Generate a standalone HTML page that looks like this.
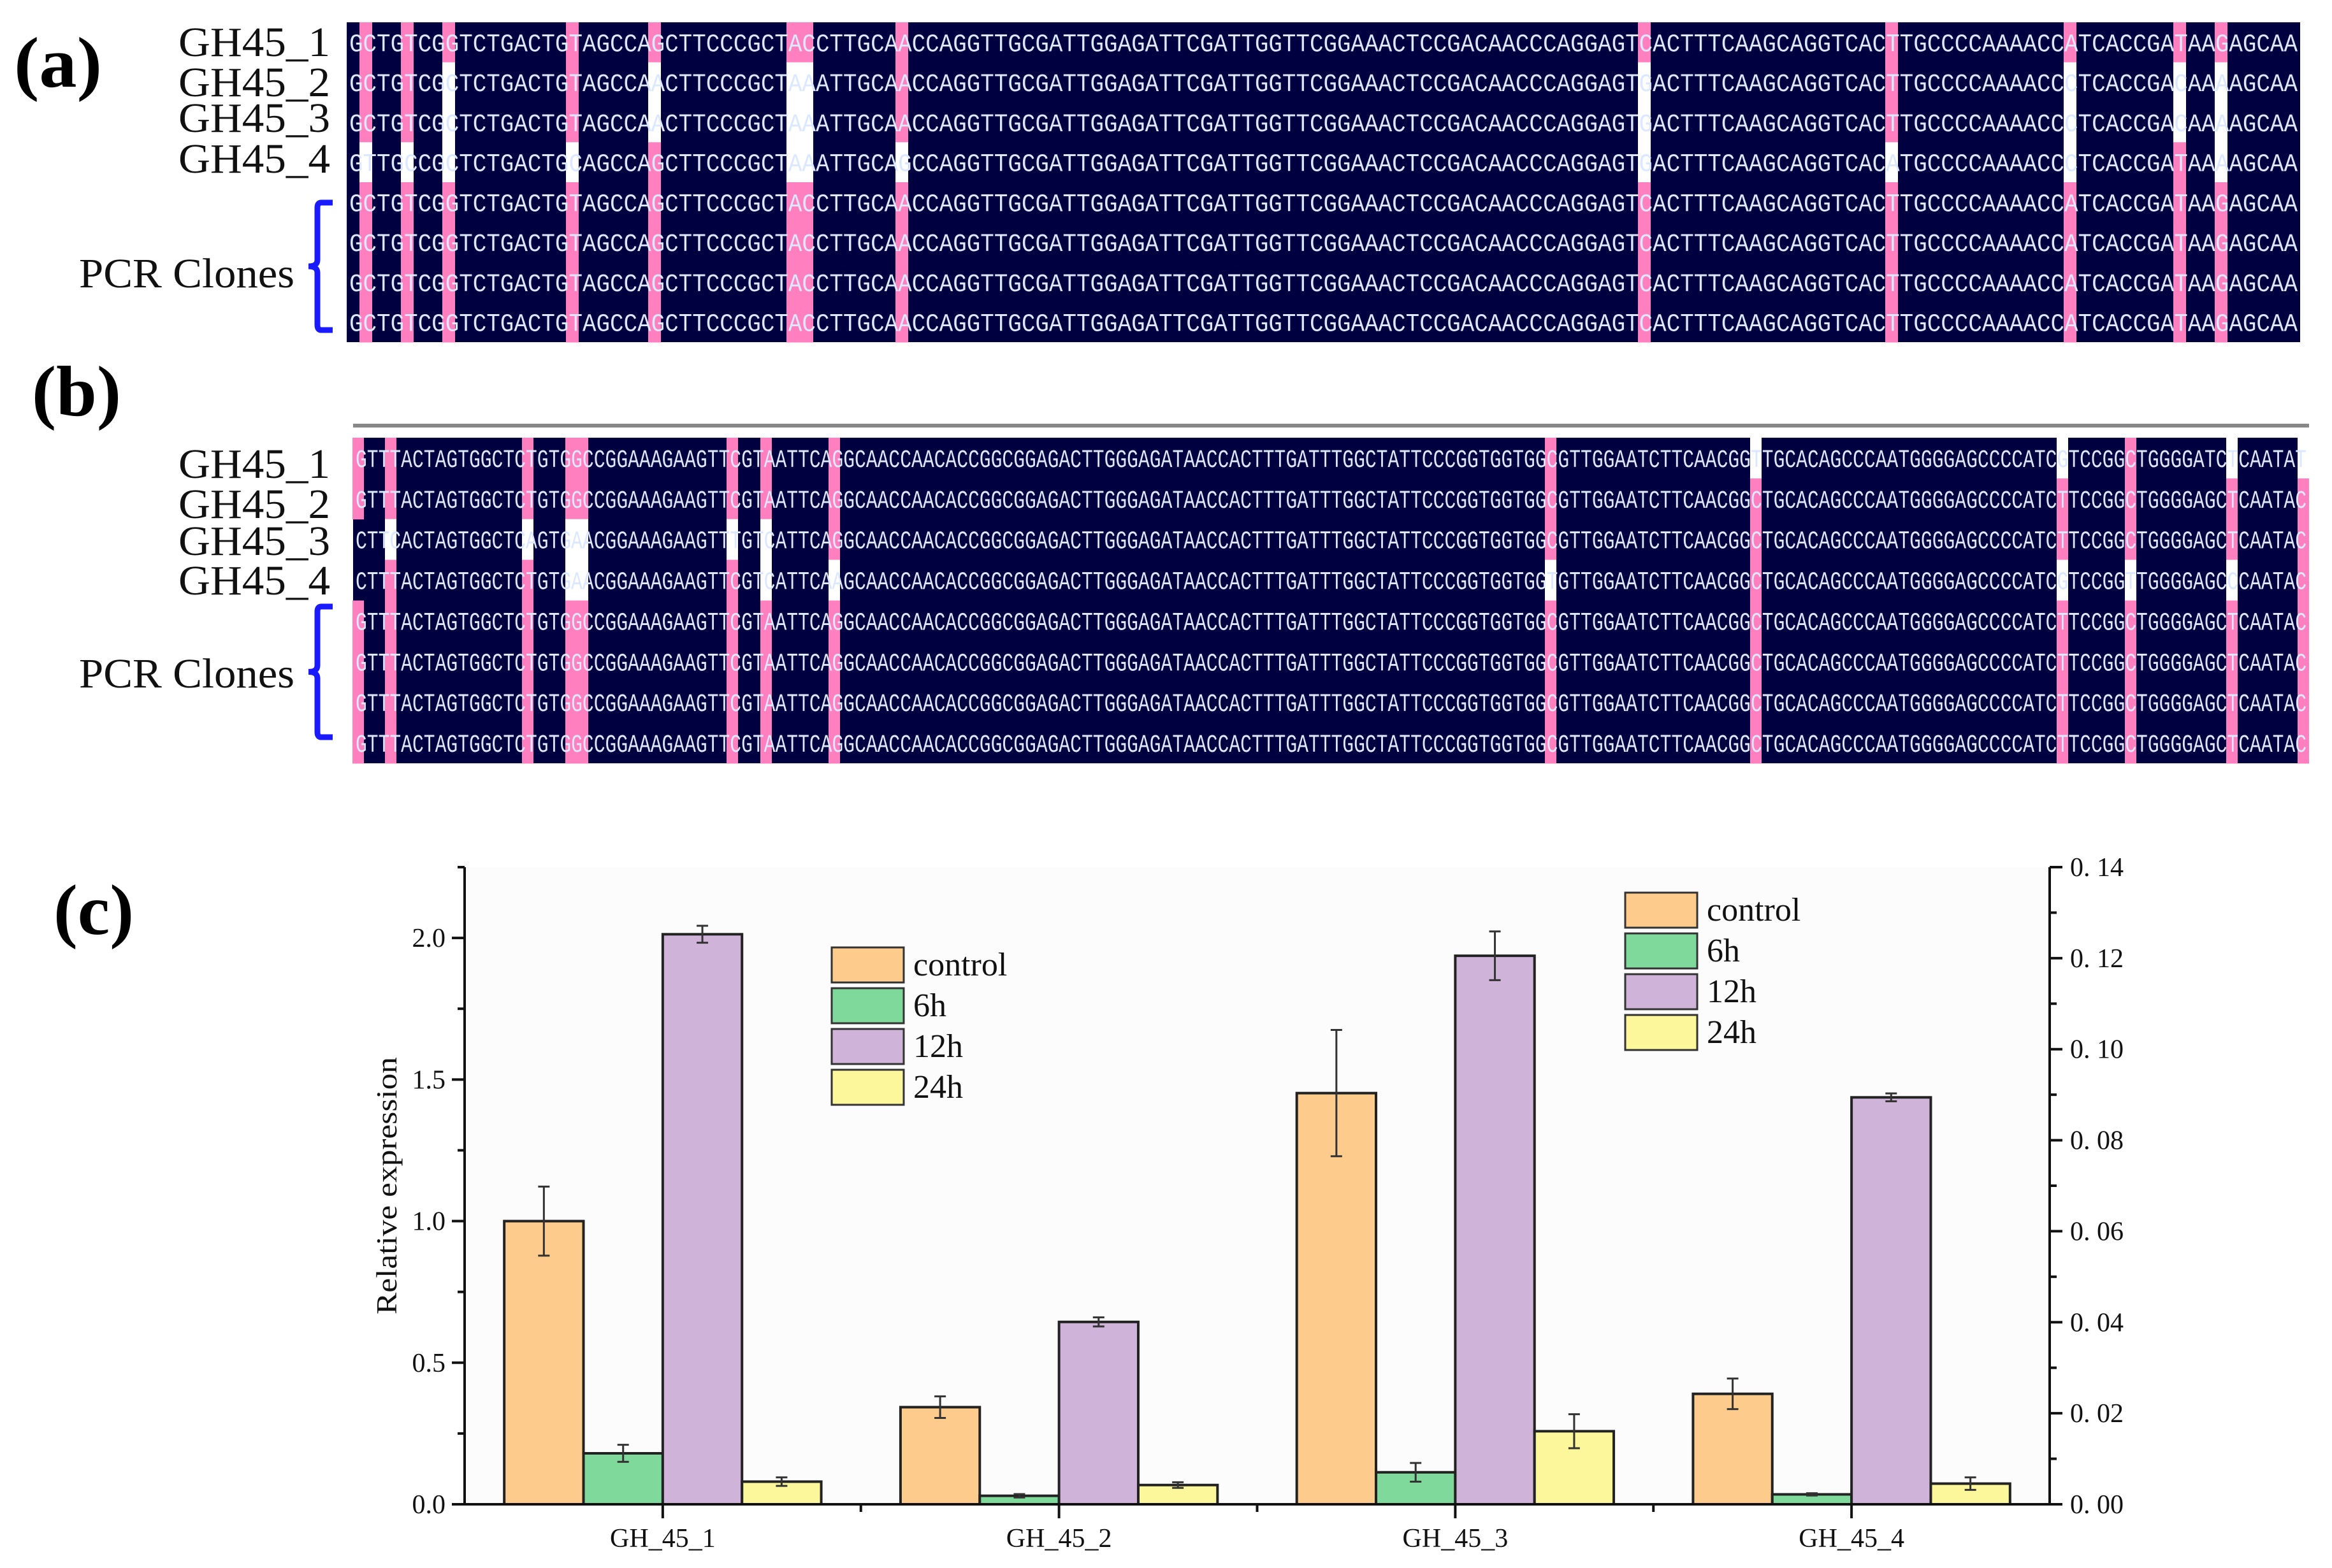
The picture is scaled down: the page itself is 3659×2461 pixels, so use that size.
<!DOCTYPE html>
<html><head><meta charset="utf-8">
<style>
html,body{margin:0;padding:0;background:#fff;}
svg{display:block;}
text{font-family:"Liberation Serif",serif;}
</style></head>
<body>
<svg id="fig" width="3659" height="2461" viewBox="0 0 3659 2461" xmlns="http://www.w3.org/2000/svg">
  <rect x="0" y="0" width="3659" height="2461" fill="#fff"/>
  <text x="22" y="136" font-size="112" font-weight="bold" textLength="138" lengthAdjust="spacingAndGlyphs">(a)</text>
  <text x="50" y="652" font-size="112" font-weight="bold" textLength="140" lengthAdjust="spacingAndGlyphs">(b)</text>
  <text x="84" y="1466" font-size="112" font-weight="bold" textLength="126" lengthAdjust="spacingAndGlyphs">(c)</text>
  <line x1="554" y1="668" x2="3623" y2="668" stroke="#888" stroke-width="6"/>
  <g id="alignA"></g>
  <g id="alignB"></g>
  <g id="chart"></g>
</svg>
<script>
// ---------- chart data ----------
const categories = ["GH_45_1","GH_45_2","GH_45_3","GH_45_4"];
const seriesNames = ["control","6h","12h","24h"];
const controlVals = [1.00, 0.343, 1.452, 0.39];
const h6Vals = [0.18, 0.03, 0.113, 0.035];
const h12Vals = [2.013, 0.644, 1.937, 1.437];
const h24Vals = [0.08, 0.068, 0.258, 0.073];
const controlErr = [0.122, 0.038, 0.223, 0.054];
const h6Err = [0.03, 0.006, 0.033, 0.004];
const h12Err = [0.03, 0.016, 0.086, 0.014];
const h24Err = [0.015, 0.01, 0.06, 0.022];
const leftTicks = ["0.0","0.5","1.0","1.5","2.0"];
const leftTickVals = [0, 0.5, 1.0, 1.5, 2.0];
const rightTicks = ["0. 00","0. 02","0. 04","0. 06","0. 08","0. 10","0. 12","0. 14"];
const rightTickVals = [0, 0.02, 0.04, 0.06, 0.08, 0.10, 0.12, 0.14];

const NS = "http://www.w3.org/2000/svg";
function mk(tag, attrs, parent) {
  const e = document.createElementNS(NS, tag);
  for (const k in attrs) e.setAttribute(k, attrs[k]);
  parent.appendChild(e);
  return e;
}

// ---------- alignments ----------
const seqA1 = "GCTGTCGGTCTGACTGTAGCCAGCTTCCCGCTACCTTGCAACCAGGTTGCGATTGGAGATTCGATTGGTTCGGAAACTCCGACAACCCAGGAGTCACTTTCAAGCAGGTCACTTGCCCCAAAACCATCACCGATAAGAGCAA";
const seqA2 = "GCTGTCGCTCTGACTGTAGCCAACTTCCCGCTAAATTGCAACCAGGTTGCGATTGGAGATTCGATTGGTTCGGAAACTCCGACAACCCAGGAGTGACTTTCAAGCAGGTCACTTGCCCCAAAACCCTCACCGACAAAAGCAA";
const seqA4 = "GTTGCCGCTCTGACTGCAGCCAGCTTCCCGCTAAATTGCAGCCAGGTTGCGATTGGAGATTCGATTGGTTCGGAAACTCCGACAACCCAGGAGTGACTTTCAAGCAGGTCACATGCCCCAAAACCCTCACCGATAAAAGCAA";
const seqB1 = "GTTTACTAGTGGCTCTGTGGCCGGAAAGAAGTTCGTAATTCAGGCAACCAACACCGGCGGAGACTTGGGAGATAACCACTTTGATTTGGCTATTCCCGGTGGTGGCGTTGGAATCTTCAACGGTTGCACAGCCCAATGGGGAGCCCCATCGTCCGGCTGGGGATCTCAATAT";
const seqB2 = "GTTTACTAGTGGCTCTGTGGCCGGAAAGAAGTTCGTAATTCAGGCAACCAACACCGGCGGAGACTTGGGAGATAACCACTTTGATTTGGCTATTCCCGGTGGTGGCGTTGGAATCTTCAACGGCTGCACAGCCCAATGGGGAGCCCCATCTTCCGGCTGGGGAGCTCAATAC";
const seqB3 = "CTTCACTAGTGGCTCAGTGAACGGAAAGAAGTTTGTCATTCAGGCAACCAACACCGGCGGAGACTTGGGAGATAACCACTTTGATTTGGCTATTCCCGGTGGTGGCGTTGGAATCTTCAACGGCTGCACAGCCCAATGGGGAGCCCCATCTTCCGGCTGGGGAGCTCAATAC";
const seqB4 = "CTTTACTAGTGGCTCTGTGAACGGAAAGAAGTTCGTCATTCAAGCAACCAACACCGGCGGAGACTTGGGAGATAACCACTTTGATTTGGCTATTCCCGGTGGTGGTGTTGGAATCTTCAACGGCTGCACAGCCCAATGGGGAGCCCCATCGTCCGGTTGGGGAGCCCAATAC";

function drawAlign(g, prefix, x0, x1, y0, y1, seqs, cols, labelX, labelYs, pcrY, brTop, brBot) {
  const n = seqs.length, rh = (y1 - y0) / n;
  const bg = mk("rect", {x:x0, y:y0, width:x1-x0, height:y1-y0, fill:"#000040"}, g);
  
  
  cols.forEach((c, ci) => {
    for (let r = 0; r < n; r++) {
      let fill = "#ff7fbf";
      if (c.white.includes(r + 1)) fill = "#ffffff";
      if (c.dark && c.dark.includes(r + 1)) continue;
      const cell = mk("rect", {x:c.x - c.w/2, y:y0 + r*rh, width:c.w, height:rh + 0.5, fill:fill}, g);
      
      
    }
  });
  seqs.forEach((s, r) => {
    const t = mk("text", {x:x0 + 4, y:y0 + r*rh + rh/2 + 14, "font-size":40, fill:"#dbe8ff",
      textLength:(x1 - x0 - 8), lengthAdjust:"spacingAndGlyphs",
      style:'font-family:"Liberation Mono",monospace'}, g);
    t.textContent = s;
    
    
  });
  ["GH45_1","GH45_2","GH45_3","GH45_4"].forEach((lab, i) => {
    const t = mk("text", {x:labelX - 238, y:labelYs[i], "font-size":66, fill:"#111",
      textLength:238, lengthAdjust:"spacingAndGlyphs"}, g);
    t.textContent = lab;
    
    
  });
  const pc = mk("text", {x:124, y:pcrY + 24, "font-size":66, fill:"#111",
    textLength:338, lengthAdjust:"spacingAndGlyphs"}, g);
  pc.textContent = "PCR Clones";
  
  
  const mid = (brTop + brBot) / 2;
  const br = mk("path", {d:`M522 ${brTop} L504 ${brTop} Q498 ${brTop} 498 ${brTop+8} L498 ${mid-10} Q498 ${mid} 484 ${mid} Q498 ${mid} 498 ${mid+10} L498 ${brBot-8} Q498 ${brBot} 504 ${brBot} L522 ${brBot}`,
    fill:"none", stroke:"#1a1aff", "stroke-width":9}, g);
  
  
}

const colsA = [
  {x:574,w:20,white:[4]},{x:639,w:20,white:[4]},{x:704,w:20,white:[2,3,4]},
  {x:898,w:20,white:[4]},{x:1027,w:20,white:[2,3]},{x:1255,w:42,white:[2,3,4]},
  {x:1415,w:20,white:[4]},{x:2580,w:20,white:[2,3,4]},{x:2968,w:20,white:[4]},
  {x:3248,w:20,white:[2,3,4]},{x:3420,w:20,white:[2,3]},{x:3485,w:20,white:[2,3,4]}
];
const colsB = [
  {x:562,w:18,white:[],dark:[3,4]},{x:613,w:18,white:[3]},{x:828,w:18,white:[3]},
  {x:905,w:36,white:[3,4]},{x:1149,w:18,white:[3]},{x:1202,w:18,white:[3,4]},
  {x:1309,w:18,white:[4]},{x:2433,w:18,white:[4]},{x:2755,w:18,white:[1]},
  {x:3236,w:18,white:[1,4]},{x:3343,w:18,white:[4]},{x:3502,w:18,white:[1,4]},
  {x:3614,w:18,white:[1]}
];
drawAlign(document.getElementById("alignA"), "align-a", 544, 3609, 35, 537,
  [seqA1, seqA2, seqA2, seqA4, seqA1, seqA1, seqA1, seqA1], colsA, 518, [88,151,207,271], 427, 318, 518);
drawAlign(document.getElementById("alignB"), "align-b", 554, 3623, 687, 1198,
  [seqB1, seqB2, seqB3, seqB4, seqB2, seqB2, seqB2, seqB2], colsB, 518, [750,813,871,933], 1055, 952, 1157);

// ---------- chart ----------
const g = document.getElementById("chart");
const X0 = 729, X1 = 3216, Y0 = 2361, YTOP = 1361, YMAX = 2.25;
const RMAX = 0.14;
function yL(v) { return Y0 - v / YMAX * (Y0 - YTOP); }
function yR(v) { return Y0 - v / RMAX * (Y0 - YTOP); }
const groupW = (X1 - X0) / categories.length;
function xc(i) { return X0 + groupW * (i + 0.5); }
const barW = groupW * 0.2;
const colors = ["#fdcb8c","#7fd99a","#cfb3d9","#fbf79a"];
const vals = [controlVals, h6Vals, h12Vals, h24Vals];
const errs = [controlErr, h6Err, h12Err, h24Err];

const plotBg = mk("rect", {x:X0, y:YTOP, width:X1-X0, height:Y0-YTOP, fill:"#fcfcfc"}, g);



categories.forEach((cat, i) => {
  for (let s = 0; s < 4; s++) {
    const v = vals[s][i], e = errs[s][i];
    const bx = xc(i) - 2*barW + s*barW;
    const b = mk("rect", {x:bx, y:yL(v), width:barW, height:Y0 - yL(v), fill:colors[s], stroke:"#222", "stroke-width":4}, g);
    
    
    const cx = bx + barW/2;
    const eb = mk("path", {d:`M${cx} ${yL(v+e)} L${cx} ${yL(v-e)} M${cx-9} ${yL(v+e)} L${cx+9} ${yL(v+e)} M${cx-9} ${yL(v-e)} L${cx+9} ${yL(v-e)}`,
      stroke:"#333", "stroke-width":3, fill:"none"}, g);
    
    
  }
  const tk = mk("line", {x1:xc(i), y1:Y0, x2:xc(i), y2:Y0+22, stroke:"#111", "stroke-width":4}, g);
  
  
  if (i > 0) {
    const mt = mk("line", {x1:X0 + groupW*i, y1:Y0, x2:X0 + groupW*i, y2:Y0+12, stroke:"#111", "stroke-width":4}, g);
    
    
  }
  const lt = mk("text", {x:xc(i), y:2428, "font-size":42, "text-anchor":"middle", fill:"#111"}, g);
  lt.textContent = cat;
  
  
});

// axes
const ax = mk("path", {d:`M${X0} ${YTOP} L${X0} ${Y0} L${X1} ${Y0} L${X1} ${YTOP}`, stroke:"#111", "stroke-width":4, fill:"none"}, g);



leftTickVals.forEach((v, i) => {
  const t = mk("line", {x1:X0-20, y1:yL(v), x2:X0, y2:yL(v), stroke:"#111", "stroke-width":4}, g);
  
  
  const m = mk("line", {x1:X0-11, y1:yL(v+0.25), x2:X0, y2:yL(v+0.25), stroke:"#111", "stroke-width":4}, g);
  
  
  const l = mk("text", {x:X0-30, y:yL(v)+14, "font-size":42, "text-anchor":"end", fill:"#111"}, g);
  l.textContent = leftTicks[i];
  
  
});
rightTickVals.forEach((v, i) => {
  const t = mk("line", {x1:X1, y1:yR(v), x2:X1+20, y2:yR(v), stroke:"#111", "stroke-width":4}, g);
  
  
  if (v < RMAX) {
    const m = mk("line", {x1:X1, y1:yR(v+0.01), x2:X1+11, y2:yR(v+0.01), stroke:"#111", "stroke-width":4}, g);
    
    
  }
  const l = mk("text", {x:X1+32, y:yR(v)+14, "font-size":42, fill:"#111"}, g);
  l.textContent = rightTicks[i];
  
  
});

const yt = mk("text", {x:0, y:0, "font-size":46, "text-anchor":"middle", fill:"#111",
  transform:"translate(622 1861) rotate(-90)", textLength:404, lengthAdjust:"spacingAndGlyphs"}, g);
yt.textContent = "Relative expression";



// legends
function legend(lx, ly, name) {
  const lg = mk("g", {}, g);
  
  
  seriesNames.forEach((s, i) => {
    const y = ly + i*64;
    const r = mk("rect", {x:lx, y:y, width:113, height:55, fill:colors[i], stroke:"#333", "stroke-width":3}, lg);
    
    
    const t = mk("text", {x:lx+128, y:y+44, "font-size":52, fill:"#111"}, lg);
    t.textContent = s;
    
    
  });
}
legend(1305, 1487, "legend-left");
legend(2550, 1401, "legend-right");
</script>
</body></html>
